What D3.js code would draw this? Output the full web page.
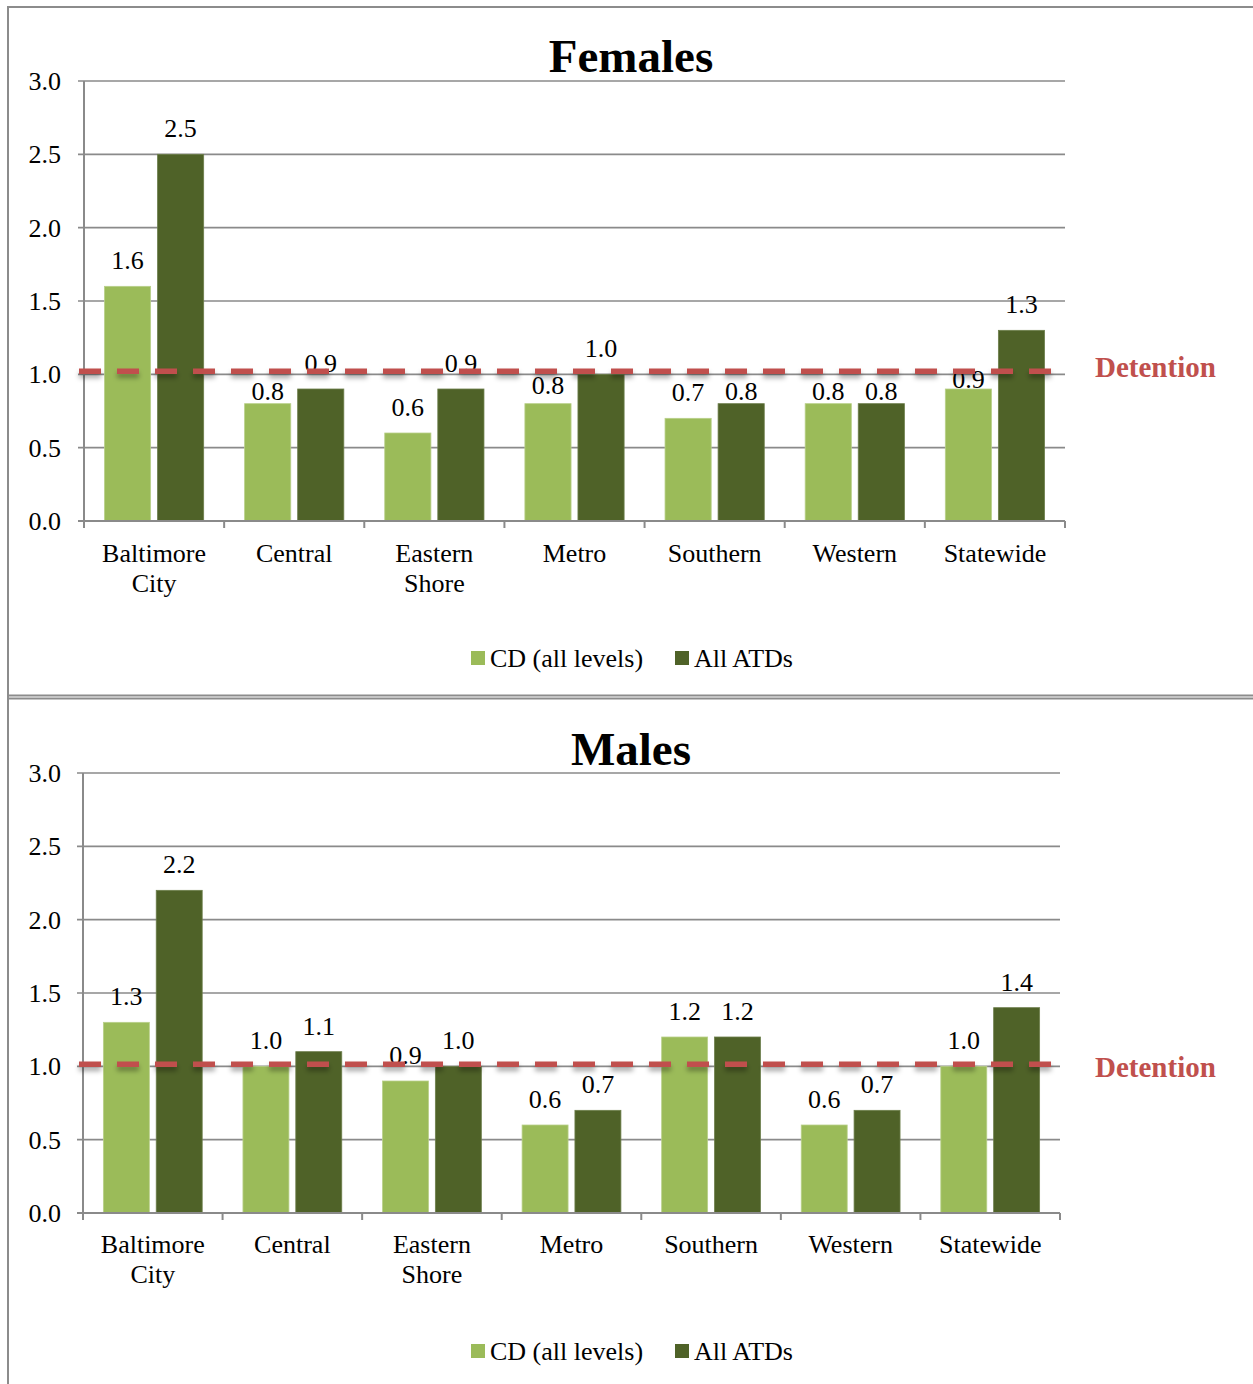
<!DOCTYPE html>
<html>
<head>
<meta charset="utf-8">
<script src="https://cdn.jsdelivr.net/npm/d3@7"></script>
<style>
  html, body { margin: 0; padding: 0; background: #fff; }
  svg { display: block; }
  text { font-family: "Liberation Serif", "Times New Roman", serif; }
</style>
</head>
<body>
<script>
// ---------------- DATA ----------------
const categories = ["Baltimore City", "Central", "Eastern Shore", "Metro", "Southern", "Western", "Statewide"];
const seriesNames = ["CD (all levels)", "All ATDs"];
const femaleCD  = [1.6, 0.8, 0.6, 0.8, 0.7, 0.8, 0.9];
const femaleATD = [2.5, 0.9, 0.9, 1.0, 0.8, 0.8, 1.3];
const maleCD    = [1.3, 1.0, 0.9, 0.6, 1.2, 0.6, 1.0];
const maleATD   = [2.2, 1.1, 1.0, 0.7, 1.2, 0.7, 1.4];
const yTicks = [0.0, 0.5, 1.0, 1.5, 2.0, 2.5, 3.0];
const detentionValue = 1.0;
const detentionLabel = "Detention";

// ---------------- STYLE / LAYOUT ----------------
const W = 1253, H = 1384;
const colors = ["#9bbb59", "#4f6228"];
const gridColor = "#8a8a8a";
const red = "#c0504d";
// manual label nudges (px, downward) as in the original
const labelNudge = {
  female: [[0, 13, 0, 7, 0, 13, 16], [0, 0, 0, 0, 13, 13, 0]],
  male:   [[0, 0, 0, 0, 0, 0, 0], [0, 0, 0, 0, 0, 0, 0]]
};

const svg = d3.select("body").append("svg").attr("width", W).attr("height", H);

const defs = svg.append("defs");
const f = defs.append("filter").attr("id", "shadow")
  .attr("filterUnits", "userSpaceOnUse")
  .attr("x", 0).attr("y", 0).attr("width", W).attr("height", H);
f.append("feDropShadow").attr("dx", 0).attr("dy", 4).attr("stdDeviation", 2.5)
  .attr("flood-color", "#000").attr("flood-opacity", 0.35);

// frames
const frame = svg.append("g").attr("fill", "none").attr("stroke", "#8c8c8c");
frame.append("line").attr("x1", 7).attr("x2", W).attr("y1", 7).attr("y2", 7).attr("stroke-width", 2);
frame.append("line").attr("x1", 8).attr("x2", 8).attr("y1", 6).attr("y2", 697).attr("stroke-width", 2);
frame.append("line").attr("x1", 7).attr("x2", W).attr("y1", 695.5).attr("y2", 695.5).attr("stroke-width", 2);
frame.append("line").attr("x1", 7).attr("x2", W).attr("y1", 698.5).attr("y2", 698.5).attr("stroke-width", 2);
frame.append("line").attr("x1", 8).attr("x2", 8).attr("y1", 697).attr("y2", H).attr("stroke-width", 2);

function drawChart(opt) {
  const g = svg.append("g");
  const x0 = d3.scaleBand().domain(categories).range([opt.left, opt.right]).paddingInner(0).paddingOuter(0);
  const bw = x0.bandwidth();
  const x1 = d3.scaleBand().domain(seriesNames).range([bw * 0.146, bw * 0.854]).paddingInner(0.13).paddingOuter(0);
  const y = d3.scaleLinear().domain([0, 3]).range([opt.bottom, opt.top]);

  // title
  g.append("text").attr("x", 631).attr("y", opt.titleY).attr("text-anchor", "middle")
    .attr("font-size", 47).attr("font-weight", "bold").attr("fill", "#000").text(opt.title);

  // gridlines (with left tick)
  g.append("g").selectAll("line").data(yTicks.filter(d => d > 0)).join("line")
    .attr("x1", opt.left - 6).attr("x2", opt.right)
    .attr("y1", d => y(d)).attr("y2", d => y(d))
    .attr("stroke", gridColor).attr("stroke-width", 1.6);

  // y tick labels
  g.append("g").selectAll("text").data(yTicks).join("text")
    .attr("x", 61).attr("y", d => y(d) + 9).attr("text-anchor", "end")
    .attr("font-size", 26).attr("fill", "#000").text(d => d3.format(".1f")(d));

  // bars
  const series = [opt.cd, opt.atd];
  series.forEach((vals, si) => {
    g.append("g").selectAll("rect").data(vals).join("rect")
      .attr("x", (d, i) => x0(categories[i]) + x1(seriesNames[si]))
      .attr("width", x1.bandwidth())
      .attr("y", d => y(d))
      .attr("height", d => y(0) - y(d))
      .attr("fill", colors[si])
      .attr("stroke", si === 0 ? "#b9d08a" : "#6d7f4c").attr("stroke-width", 0.8);
  });

  // axes
  const ax = g.append("g").attr("stroke", gridColor).attr("stroke-width", 2);
  ax.append("line").attr("x1", opt.left).attr("x2", opt.left).attr("y1", y(3)).attr("y2", y(0) + 7);
  ax.append("line").attr("x1", opt.left - 6).attr("x2", opt.right).attr("y1", y(0)).attr("y2", y(0));
  const bounds = categories.map(c => x0(c)).concat([opt.right]);
  ax.selectAll("line.tk").data(bounds).join("line").attr("class", "tk")
    .attr("x1", d => d).attr("x2", d => d).attr("y1", y(0)).attr("y2", y(0) + 7);

  // x labels
  const xl = g.append("g").selectAll("text").data(categories).join("text")
    .attr("text-anchor", "middle").attr("font-size", 26).attr("fill", "#000")
    .attr("transform", d => `translate(${x0(d) + bw / 2},${y(0) + opt.xlabOff})`);
  xl.each(function (d) {
    const words = d.split(" ");
    d3.select(this).selectAll("tspan").data(words).join("tspan")
      .attr("x", 0).attr("y", (w, i) => i * 30).text(w => w);
  });

  // value labels
  series.forEach((vals, si) => {
    g.append("g").selectAll("text").data(vals).join("text")
      .attr("x", (d, i) => x0(categories[i]) + x1(seriesNames[si]) + x1.bandwidth() / 2)
      .attr("y", (d, i) => y(d) - 17 + opt.nudge[si][i])
      .attr("text-anchor", "middle").attr("font-size", 26).attr("fill", "#000")
      .text(d => d3.format(".1f")(d));
  });

  // detention line
  const dy = y(detentionValue) + opt.detOff;
  g.append("line").attr("x1", 79).attr("x2", 1053).attr("y1", dy).attr("y2", dy)
    .attr("stroke", red).attr("stroke-width", 5.5).attr("stroke-dasharray", "22,16")
    .attr("filter", "url(#shadow)");
  g.append("text").attr("x", 1095).attr("y", dy + opt.detLabOff)
    .attr("font-size", 29).attr("font-weight", "bold").attr("fill", red).text(detentionLabel);

  // legend
  const lg = g.append("g").attr("transform", `translate(0,${opt.legendY})`);
  const items = [{ x: 471, name: seriesNames[0], c: colors[0] }, { x: 675, name: seriesNames[1], c: colors[1] }];
  items.forEach(it => {
    lg.append("rect").attr("x", it.x).attr("y", -7).attr("width", 14).attr("height", 14).attr("fill", it.c);
    lg.append("text").attr("x", it.x + 19).attr("y", 9).attr("font-size", 26).attr("fill", "#000").text(it.name);
  });
}

drawChart({
  title: "Females", titleY: 72, left: 84, right: 1065, top: 81, bottom: 521,
  cd: femaleCD, atd: femaleATD, nudge: labelNudge.female,
  xlabOff: 41, detOff: -3, detLabOff: 6, legendY: 658
});
drawChart({
  title: "Males", titleY: 765, left: 83, right: 1060, top: 773, bottom: 1213,
  cd: maleCD, atd: maleATD, nudge: labelNudge.male,
  xlabOff: 40, detOff: -2, detLabOff: 13, legendY: 1351
});
</script>
</body>
</html>
